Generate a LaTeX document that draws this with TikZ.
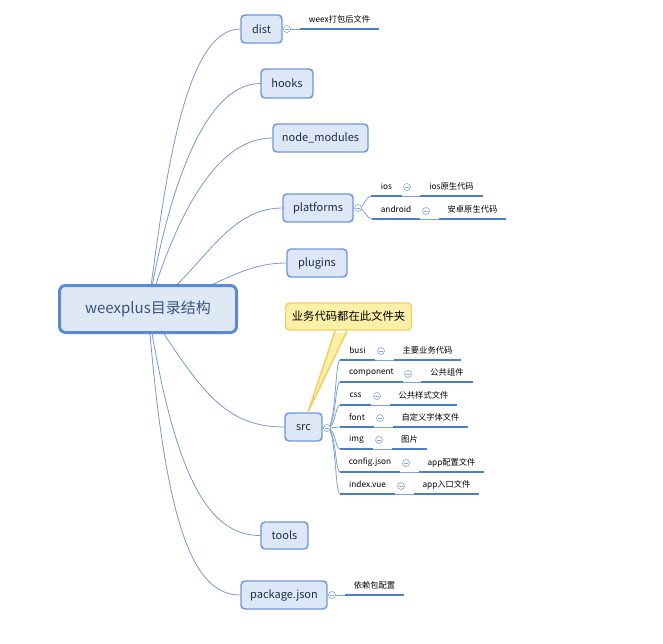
\documentclass[tikz,border=0pt]{standalone}
\usepackage{fontspec}
\setmainfont{Noto Sans CJK SC}
\usetikzlibrary{backgrounds}

\tikzset{every picture/.style={line width=0.75pt}}
\tikzset{
  roottopic/.style={draw={rgb, 255:red, 91; green, 138; blue, 212 }, line width=2.25pt, fill={rgb, 255:red, 223; green, 232; blue, 245 }, rounded corners=4.5pt, minimum width=132.75pt, minimum height=35.25pt, inner sep=0pt, text={rgb, 255:red, 60; green, 85; blue, 120 }, font=\fontsize{11.25}{13}\selectfont},
  topic/.style={draw={rgb, 255:red, 109; green, 152; blue, 216 }, line width=1.1pt, fill={rgb, 255:red, 221; green, 231; blue, 245 }, rounded corners=3pt, minimum height=21pt, inner sep=0pt, text={rgb, 255:red, 31; green, 45; blue, 68 }, font=\fontsize{8.25}{10}\selectfont},
  note/.style={draw={rgb, 255:red, 243; green, 207; blue, 99 }, line width=1.1pt, fill={rgb, 255:red, 252; green, 240; blue, 168 }, rounded corners=3pt, minimum width=94.5pt, minimum height=20.25pt, inner sep=0pt, font=\fontsize{8.5}{10}\selectfont},
  notefill/.style={fill={rgb, 255:red, 252; green, 240; blue, 168 }},
  noteline/.style={draw={rgb, 255:red, 243; green, 207; blue, 99 }, line width=1.1pt, line join=round},
  uline/.style={draw={rgb, 255:red, 74; green, 127; blue, 204 }, line width=1.5pt},
  leaf/.style={anchor=south west, inner sep=0pt, minimum height=13.5pt, font=\fontsize{6.2}{7.5}\selectfont, append after command={(\tikzlastnode.south west) edge[uline] (\tikzlastnode.south east)}},
  link/.style={draw={rgb, 255:red, 125; green, 161; blue, 216 }, line width=0.6pt},
  branch/.style={draw={rgb, 255:red, 123; green, 150; blue, 207 }, line width=0.6pt},
  dot/.style={circle, draw={rgb, 255:red, 140; green, 169; blue, 216 }, fill=white, inner sep=0pt, minimum size=5.25pt, line width=0.5pt, path picture={\draw[draw={rgb, 255:red, 140; green, 169; blue, 216 }, line width=0.5pt] ([xshift=-1.5pt]path picture bounding box.center) -- ([xshift=1.5pt]path picture bounding box.center);}}
}

\begin{document}
\begin{tikzpicture}[x=0.75pt,y=0.75pt,yscale=-1,xscale=1]
    \useasboundingbox (0,0) rectangle (663,643);

    %Shape: Root Topic
    \node [roottopic] (root) at (148,309) {weexplus目录结构};
    %Shape: Main Topics
    \node [topic, minimum width=30.75pt] (dist) at (261.5,29) {dist};
    \node [topic, minimum width=39pt, minimum height=21.75pt] (hooks) at (287,83.5) {hooks};
    \node [topic, minimum width=71.25pt] (nodemodules) at (320.5,138) {node\_modules};
    \node [topic, minimum width=52.5pt] (platforms) at (318,208) {platforms};
    \node [topic, minimum width=45pt] (plugins) at (317,263) {plugins};
    \node [topic, minimum width=27.75pt] (src) at (303.5,427) {src};
    \node [topic, minimum width=35.25pt, minimum height=20.25pt] (tools) at (284.5,535.5) {tools};
    \node [topic, minimum width=64.5pt] (packagejson) at (284,595) {package.json};

    %Shape: Callout
    \node [note] (tipnote) at (348.5,316.5) {业务代码都在此文件夹};
    \coordinate (tip) at (308,412);
    \fill [notefill] ([xshift=-10pt,yshift=1.5pt]tipnote.south) -- (tip) -- ([xshift=-1pt,yshift=1.5pt]tipnote.south) -- cycle;
    \draw [noteline] ([xshift=-10pt]tipnote.south) -- (tip) -- ([xshift=-1pt]tipnote.south);

    % Text Node: dist
    \node [leaf, minimum width=58.5pt] (distnote) at (300,29) {weex打包后文件};
    \node [dot] (distdot) at (287,29) {};
    % Text Node: platforms
    \node [dot] (platdot) at (358,208) {};
    \node [leaf, minimum width=22.5pt] (ios) at (371,196) {ios};
    \node [dot] (iosdot) at (407,187) {};
    \node [leaf, minimum width=46.5pt] (iosnote) at (420,196) {ios原生代码};
    \node [leaf, minimum width=35.25pt] (android) at (372,219) {android};
    \node [dot] (androiddot) at (426,211) {};
    \node [leaf, minimum width=49.5pt] (androidnote) at (439,219) {安卓原生代码};
    % Text Node: src
    \node [dot] (srcdot) at (327,428) {};
    \node [leaf, minimum width=25.5pt] (busi) at (340,360) {busi};
    \node [dot] (busidot) at (381,351) {};
    \node [leaf, minimum width=49.5pt] (businote) at (394,360) {主要业务代码};
    \node [leaf, minimum width=46.5pt] (component) at (340,382) {component};
    \node [dot] (componentdot) at (408,374) {};
    \node [leaf, minimum width=38.25pt] (componentnote) at (421,382) {公共组件};
    \node [leaf, minimum width=22.5pt] (css) at (340,405) {css};
    \node [dot] (cssdot) at (377,396) {};
    \node [leaf, minimum width=49.5pt] (cssnote) at (390,405) {公共样式文件};
    \node [leaf, minimum width=24.75pt] (font) at (340,427) {font};
    \node [dot] (fontdot) at (380,418) {};
    \node [leaf, minimum width=55.5pt] (fontnote) at (393,427) {自定义字体文件};
    \node [leaf, minimum width=24pt] (img) at (340,449) {img};
    \node [dot] (imgdot) at (379,440) {};
    \node [leaf, minimum width=25.5pt] (imgnote) at (392,449) {图片};
    \node [leaf, minimum width=44.25pt] (config) at (340,472) {config.json};
    \node [dot] (configdot) at (406,463) {};
    \node [leaf, minimum width=48pt] (confignote) at (419,472) {app配置文件};
    \node [leaf, minimum width=40.5pt] (index) at (340,494) {index.vue};
    \node [dot] (indexdot) at (401,486) {};
    \node [leaf, minimum width=48pt] (indexnote) at (414,494) {app入口文件};
    % Text Node: package.json
    \node [dot] (packagedot) at (332,595) {};
    \node [leaf, minimum width=43.5pt] (packagenote) at (345,595) {依赖包配置};

    \begin{scope}[on background layer]
    %Curve Lines: root to main topics
    \draw [branch] (root.center) .. controls +(17,-129) and +(-56,0) .. (dist.west);
    \draw [branch] (root.center) .. controls +(20,-119) and +(-56,0) .. (hooks.west);
    \draw [branch] (root.center) .. controls +(27,-89) and +(-58,0) .. (nodemodules.west);
    \draw [branch] (root.center) .. controls +(52,-34) and +(-58,0) .. (platforms.west);
    \draw [branch] (root.center) .. controls +(67,-19) and +(-47,0) .. (plugins.west);
    \draw [branch] (root.center) .. controls +(52,81) and +(-60,0) .. (src.west);
    \draw [branch] (root.center) .. controls +(27,171) and +(-51,0) .. (tools.west);
    \draw [branch] (root.center) .. controls +(17,221) and +(-46,0) .. (packagejson.west);
    %Straight Lines: topics to notes
    \draw [link] (dist.east) -- (distnote.south west);
    \draw [link] (packagejson.east) -- (packagenote.south west);
    \draw [link] (platforms.east) -- (platdot.center);
    \draw [link] (src.east) -- (srcdot.center);
    \draw [link] (platdot.center) .. controls +(7,0) and +(-6,0) .. (ios.south west);
    \draw [link] (platdot.center) .. controls +(7,0) and +(-6,0) .. (android.south west);
    \draw [link] (ios.south east) -- (iosnote.south west);
    \draw [link] (android.south east) -- (androidnote.south west);
    %Curve Lines: src to its folders
    \draw [link] (srcdot.center) .. controls +(9,0) and +(-5,0) .. (busi.south west);
    \draw [link] (srcdot.center) .. controls +(9,0) and +(-5,0) .. (component.south west);
    \draw [link] (srcdot.center) .. controls +(9,0) and +(-5,0) .. (css.south west);
    \draw [link] (srcdot.center) .. controls +(9,0) and +(-5,0) .. (font.south west);
    \draw [link] (srcdot.center) .. controls +(9,0) and +(-5,0) .. (img.south west);
    \draw [link] (srcdot.center) .. controls +(9,0) and +(-5,0) .. (config.south west);
    \draw [link] (srcdot.center) .. controls +(9,0) and +(-5,0) .. (index.south west);
    \draw [link] (busi.south east) -- (businote.south west);
    \draw [link] (component.south east) -- (componentnote.south west);
    \draw [link] (css.south east) -- (cssnote.south west);
    \draw [link] (font.south east) -- (fontnote.south west);
    \draw [link] (img.south east) -- (imgnote.south west);
    \draw [link] (config.south east) -- (confignote.south west);
    \draw [link] (index.south east) -- (indexnote.south west);
    \end{scope}
\end{tikzpicture}
\end{document}
